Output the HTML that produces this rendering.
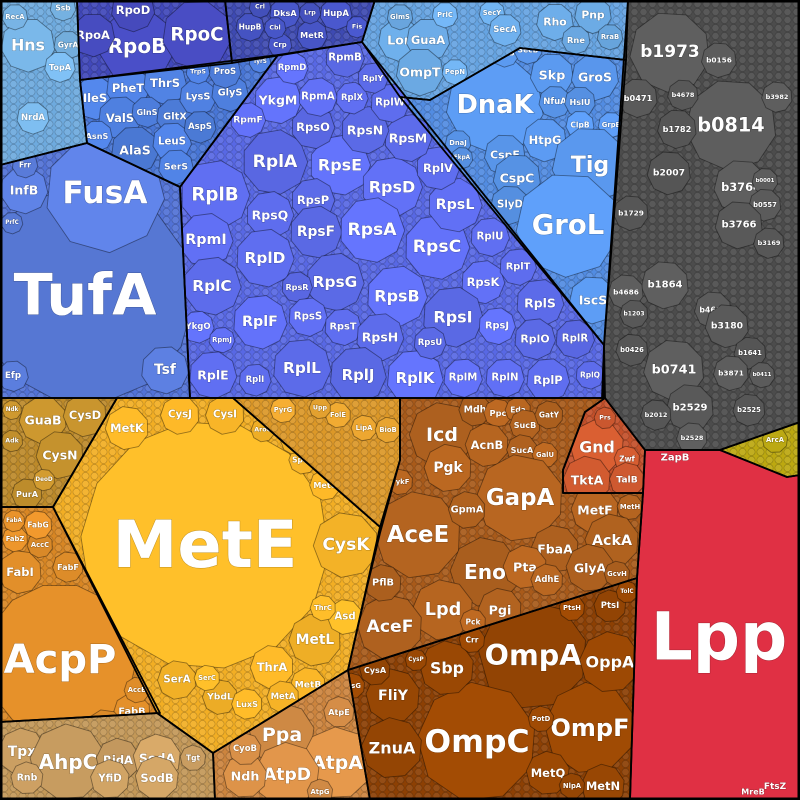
<!DOCTYPE html>
<html><head><meta charset="utf-8">
<style>
html,body{margin:0;padding:0;background:#000;}
svg{display:block;}
text{font-family:"DejaVu Sans","Liberation Sans",sans-serif;font-weight:bold;fill:#fff;text-anchor:middle;dominant-baseline:central;paint-order:stroke;stroke:rgba(0,0,0,0.25);stroke-width:1px;}
</style></head>
<body>
<svg id="chart" width="800" height="800" viewBox="0 0 800 800" xmlns="http://www.w3.org/2000/svg">
<defs>
<pattern id="tex" width="9" height="8" patternUnits="userSpaceOnUse">
<circle cx="4.5" cy="4" r="3.6" fill="rgba(255,255,255,0.07)" stroke="rgba(0,0,0,0.22)" stroke-width="0.7"/>
</pattern>
</defs>
<g id="regions"></g>
<g id="cells"></g>
<g id="borders"></g>
<rect x="1" y="1" width="798" height="798" fill="none" stroke="#000" stroke-width="3"/>
</svg>
<script>
// ---- groups (regions) ----
const groupNames=["ribosome","translation-factors","trna-synthetases","rna-polymerase","nucleoid","dna-replication","membrane-transport-upper","chaperones","unknown-function","nucleotide","fatty-acid","amino-acid","cofactor","central-carbon","pentose-phosphate","transport","stress","energy","arca-group","lpp-group"];
const groupFill=["#5f6ef0","#5c7fe0","#4f80e0","#4a4fc8","#4654c4","#7ab8ea","#6eaeea","#5a98ee","#5a5a5a","#c9952e","#e4902a","#fbb728","#e8a430","#b46420","#d05a30","#9a4804","#cfa264","#d99048","#c8b414","#e03044"];
const groupBg=["#5868e4","#5272d6","#4876d6","#4148ba","#3e4ab2","#6eaade","#66a4e2","#528ce2","#4c4c4c","#bd8a2a","#d88624","#f2ae24","#dc9828","#a85a1a","#c4502a","#8c4004","#c39858","#cc843e","#bca810","#e03044"];
// layout polygons of each region (layout, not data)
const groupPoly=[
 [[180,187],[278,55],[362,42],[604,345],[602,398],[190,398]],
 [[0,165],[87,143],[180,187],[190,398],[0,398]],
 [[80,80],[278,55],[180,187],[87,143]],
 [[77,0],[225,0],[232,63],[80,80]],
 [[225,0],[375,0],[362,42],[232,63]],
 [[0,0],[77,0],[80,80],[87,143],[0,165]],
 [[375,0],[628,0],[626,60],[520,48],[430,100],[400,97],[362,42]],
 [[400,97],[430,100],[520,48],[626,60],[604,345]],
 [[628,0],[800,0],[800,422],[720,450],[645,450],[605,398],[604,345]],
 [[0,398],[117,398],[53,507],[0,507]],
 [[0,507],[53,507],[160,713],[0,722]],
 [[117,398],[233,398],[380,527],[348,670],[213,753],[157,713],[53,507]],
 [[233,398],[400,398],[400,460],[380,527]],
 [[400,398],[605,398],[585,412],[563,470],[563,493],[643,493],[637,578],[348,670],[367,587],[380,533],[400,460]],
 [[585,412],[605,398],[645,450],[643,493],[563,493],[563,470]],
 [[348,670],[637,578],[630,800],[370,800]],
 [[0,722],[157,713],[213,753],[215,800],[0,800]],
 [[213,753],[348,670],[370,800],[215,800]],
 [[720,450],[800,422],[800,475],[787,477]],
 [[645,450],[720,450],[787,477],[800,475],[800,800],[630,800],[637,578],[643,493]]
];
// ---- cells: names, abundance values, group ----
const cellNames=["RplA","RpsE","RpsD","RplB","RpsQ","RpsP","RpsF","RpsA","RpsC","RpsL","RplV","RpsM","RpsN","RpsO","YkgM","RpmA","RplX","RplW","RplY","RpmB","RpmD","RpmF","RpmI","RplD","RplC","RpsG","RpsR","RpsB","RpsK","RplU","RplT","RplS","RpsI","RpsJ","RplF","RpsS","RpsT","RpsH","RplO","RplR","YkgO","RpmJ","RplE","RplI","RplL","RplJ","RplK","RplM","RplN","RplP","RplQ","RpsU",
"TufA","FusA","InfB","Tsf","Efp","Frr","PrfC",
"IleS","PheT","ThrS","ValS","GlnS","GltX","AlaS","LeuS","SerS","LysS","GlyS","ProS","AspS","AsnS","TrpS","TyrS",
"RpoB","RpoC","RpoA","RpoD",
"HupA","DksA","MetR","HupB","Lrp","Crl","Fis","Crp","Cbl",
"Hns","RecA","Ssb","GyrA","TopA","NrdA",
"Lon","GuaA","OmpT","GlmS","PrlC","SecY","SecA","Rho","Pnp","Rne","RraB","PepN",
"DnaK","Skp","GroS","NfuA","HslU","ClpB","GrpE","HtpG","Tig","CspE","CspC","SlyD","GroL","IscS","PpiB","SecB","DnaJ","FkpA",
"b1973","b0814","b0156","b0471","b4678","b1782","b2007","b3764","b0001","b0557","b3766","b3169","b1729","b1864","b4686","b4663","b3180","b1203","b0426","b1641","b0741","b3871","b0411","b2529","b2525","b2012","b2528","b3982",
"GuaB","CysD","CysN","Adk","PurA","DeoD","Ndk",
"AcpP","FabI","FabF","AccC","FabG","FabZ","FabA","FabB","AccB","FabD","AccD",
"MetE","MetK","CysJ","CysI","CysK","MetL","Asd","ThrC","ThrA","MetB","MetA","SerA","YbdL","SerC","LuxS","MetC","SpeA","SpeB","AroG",
"PyrG","FolE","LipA","BioB","Upp",
"Icd","Mdh","Ppc","Eda","AcnB","SucB","SucA","GatY","GalU","Pgk","GapA","AceE","GpmA","FbaA","Eno","Pta","AdhE","Lpd","Pgi","AceF","PflB","Pck","PykF","MetF","MetH","AckA","GlyA","GcvH",
"Gnd","Zwf","TktA","TalB","Prs",
"OmpA","OmpC","OmpF","OppA","Sbp","FliY","ZnuA","CysA","PtsG","Crr","MetQ","MetN","NlpA","PtsI","PtsH","PotD","TolC","CysP",
"Tpx","AhpC","RidA","SodA","SodB","YfiD","Rnb","Tgt",
"Ppa","AtpA","AtpD","Ndh","CyoB","AtpE","AtpG",
"ArcA"];
const cellValues=[90,78,78,102,48,40,58,90,90,62,40,48,48,40,48,32,22,32,20,32,22,26,62,72,72,72,20,78,40,32,29,48,78,29,62,32,29,48,36,32,22,14,48,22,72,68,68,32,32,40,17,22,
1000,300,48,48,20,14,10,
40,40,40,40,20,29,48,32,26,29,29,22,22,20,12,10,
122,102,40,40,
22,20,20,17,10,10,10,12,10,
62,14,14,17,20,22,
40,40,48,14,14,14,22,29,29,17,14,14,
202,40,48,22,20,17,14,40,122,36,48,32,230,48,17,17,14,10,
137,176,26,32,20,32,40,62,14,22,48,20,26,48,26,29,40,17,22,22,78,26,14,48,22,20,20,20,
48,40,48,10,20,10,8,
490,40,20,14,17,14,10,29,14,32,14,
1300,40,32,32,90,58,26,14,40,26,22,32,26,14,20,20,17,12,12,
14,14,14,14,10,
90,22,17,14,40,20,20,17,14,48,160,160,29,48,102,40,22,78,40,90,29,14,14,48,14,62,48,14,
62,14,48,26,10,
250,302,176,78,62,62,78,20,14,14,40,40,14,22,14,14,10,10,
48,122,40,48,40,32,22,14,
90,109,90,40,22,20,14,
14];
const cellGroups=[0,0,0,0,0,0,0,0,0,0,0,0,0,0,0,0,0,0,0,0,0,0,0,0,0,0,0,0,0,0,0,0,0,0,0,0,0,0,0,0,0,0,0,0,0,0,0,0,0,0,0,0,
1,1,1,1,1,1,1,
2,2,2,2,2,2,2,2,2,2,2,2,2,2,2,2,
3,3,3,3,
4,4,4,4,4,4,4,4,4,
5,5,5,5,5,5,
6,6,6,6,6,6,6,6,6,6,6,6,
7,7,7,7,7,7,7,7,7,7,7,7,7,7,7,7,7,7,
8,8,8,8,8,8,8,8,8,8,8,8,8,8,8,8,8,8,8,8,8,8,8,8,8,8,8,8,
9,9,9,9,9,9,9,
10,10,10,10,10,10,10,10,10,10,10,
11,11,11,11,11,11,11,11,11,11,11,11,11,11,11,11,11,11,11,
12,12,12,12,12,
13,13,13,13,13,13,13,13,13,13,13,13,13,13,13,13,13,13,13,13,13,13,13,13,13,13,13,13,
14,14,14,14,14,
15,15,15,15,15,15,15,15,15,15,15,15,15,15,15,15,15,15,
16,16,16,16,16,16,16,16,
17,17,17,17,17,17,17,
18];
// layout sites (pixel positions, layout only)
const cellSites=[[275,162],[340,165],[392,187],[215,195],[270,215],[313,200],[316,232],[372,230],[437,247],[455,205],[438,168],[408,138],[365,130],[313,127],[278,100],[318,97],[352,98],[390,103],[373,78],[345,58],[292,68],[248,120],[206,240],[265,258],[212,286],[335,282],[297,287],[397,296],[483,282],[490,237],[518,267],[540,303],[453,317],[497,326],[260,322],[308,317],[343,327],[380,337],[535,339],[575,339],[198,327],[222,340],[213,375],[255,380],[302,368],[358,375],[415,378],[463,378],[505,378],[548,380],[590,375],[430,343],
[85,295],[105,193],[24,190],[165,370],[13,376],[25,165],[12,223],
[95,98],[128,88],[165,83],[120,118],[147,112],[175,117],[135,150],[172,142],[176,167],[198,97],[230,93],[225,72],[200,127],[97,136],[198,72],[260,62],
[137,46],[197,35],[93,35],[133,10],
[336,14],[285,13],[312,35],[250,27],[310,13],[260,7],[357,27],[280,45],[275,28],
[28,45],[15,17],[63,8],[68,45],[60,67],[33,118],
[400,40],[428,40],[420,72],[400,17],[445,15],[492,13],[505,30],[555,22],[593,15],[576,40],[610,37],[455,72],
[495,105],[552,75],[595,77],[555,102],[580,102],[580,125],[611,125],[545,140],[590,165],[505,155],[517,178],[510,205],[568,225],[593,300],[505,53],[528,50],[458,143],[462,158],
[670,52],[731,125],[719,60],[638,98],[683,95],[677,129],[669,173],[741,187],[765,181],[765,205],[739,225],[769,243],[631,213],[665,285],[626,292],[713,310],[727,326],[634,314],[632,350],[750,353],[674,370],[731,373],[762,375],[690,408],[749,410],[656,415],[692,438],[777,97],
[43,420],[85,415],[60,455],[12,441],[27,494],[44,480],[12,410],
[60,660],[20,572],[68,567],[40,545],[38,525],[15,539],[14,521],[132,712],[137,690],[105,729],[132,733],
[205,545],[127,428],[180,415],[225,415],[346,545],[315,640],[345,617],[323,608],[272,667],[308,685],[283,697],[177,680],[220,697],[207,678],[247,704],[325,485],[303,460],[293,442],[263,430],
[283,410],[338,415],[364,428],[388,430],[320,408],
[442,435],[475,410],[498,413],[518,410],[487,445],[525,425],[522,450],[549,415],[545,455],[448,468],[520,498],[418,535],[467,510],[555,549],[485,572],[525,567],[547,580],[443,610],[500,610],[390,627],[383,583],[473,622],[400,482],[595,510],[630,507],[612,541],[590,568],[617,574],
[597,447],[627,459],[587,480],[627,480],[605,418],
[533,655],[477,742],[590,728],[610,662],[447,668],[393,696],[392,748],[375,670],[352,686],[472,640],[548,773],[603,786],[572,786],[610,606],[572,608],[541,719],[627,592],[416,660],
[22,752],[68,762],[118,760],[157,758],[157,778],[110,779],[27,778],[193,758],
[282,735],[337,763],[287,775],[245,776],[245,749],[339,712],[320,792],
[775,440]];

const NS="http://www.w3.org/2000/svg";
const rScale=v=>Math.sqrt(v)*3.45;
function shade(hex,k){const n=parseInt(hex.slice(1),16);let r=n>>16,g=(n>>8)&255,b=n&255;
 const f=c=>Math.max(0,Math.min(255,Math.round(c*k)));return "rgb("+f(r)+","+f(g)+","+f(b)+")";}
const svg=document.getElementById("chart");
const defs=svg.querySelector("defs");
const gReg=document.getElementById("regions"),gCells=document.getElementById("cells"),gB=document.getElementById("borders");
const ptsStr=p=>p.map(q=>q.join(",")).join(" ");
groupPoly.forEach((poly,i)=>{
 const cp=document.createElementNS(NS,"clipPath");cp.setAttribute("id","clip"+i);
 const cpp=document.createElementNS(NS,"polygon");cpp.setAttribute("points",ptsStr(poly));cp.appendChild(cpp);defs.appendChild(cp);
 const bg=document.createElementNS(NS,"polygon");bg.setAttribute("points",ptsStr(poly));bg.setAttribute("fill",groupBg[i]);
 
 
 gReg.appendChild(bg);
 if(i!==19){const t=document.createElementNS(NS,"polygon");t.setAttribute("points",ptsStr(poly));t.setAttribute("fill","url(#tex)");
 
 
 gReg.appendChild(t);}
 const gc=document.createElementNS(NS,"g");gc.setAttribute("id","cg"+i);gc.setAttribute("clip-path","url(#clip"+i+")");gCells.appendChild(gc);
 const br=document.createElementNS(NS,"polygon");br.setAttribute("points",ptsStr(poly));br.setAttribute("fill","none");br.setAttribute("stroke","#000");br.setAttribute("stroke-width","1.8");br.setAttribute("stroke-linejoin","round");
 
 
 gB.appendChild(br);
});
cellNames.forEach((name,i)=>{
 const g=cellGroups[i],v=cellValues[i],[cx,cy]=cellSites[i];const r=rScale(v);
 const gc=document.getElementById("cg"+g);
 const n=r>60?14:9,rot=(i*0.7)%(Math.PI*2);const pts=[];
 for(let k=0;k<n;k++){const a=rot+k*2*Math.PI/n;pts.push([(cx+r*Math.cos(a)).toFixed(1),(cy+r*Math.sin(a)).toFixed(1)]);}
 const p=document.createElementNS(NS,"polygon");p.setAttribute("points",ptsStr(pts));
 p.setAttribute("fill",shade(groupFill[g],0.94+((i*37)%13)/100));
 p.setAttribute("stroke","rgba(0,0,0,0.4)");p.setAttribute("stroke-width","0.9");
 
 
 gc.appendChild(p);
 const fs=Math.min(r*0.58,2.1*r/name.length);
 if(fs>=5){const t=document.createElementNS(NS,"text");t.setAttribute("x",cx);t.setAttribute("y",cy);t.setAttribute("font-size",fs.toFixed(1));t.textContent=name;
 
 
 gc.appendChild(t);}
});
function lab(txt,x,y,fs,nm){const t=document.createElementNS(NS,"text");t.setAttribute("x",x);t.setAttribute("y",y);t.setAttribute("font-size",fs);t.textContent=txt;
 
 
 svg.insertBefore(t,svg.lastElementChild);}
lab("Lpp",719,637,66,"label-lpp");
lab("ZapB",675,458,10,"label-zapb");
lab("FtsZ",775,787,9,"label-ftsz");
lab("MreB",753,792,8,"label-mreb");
</script>
</body></html>
